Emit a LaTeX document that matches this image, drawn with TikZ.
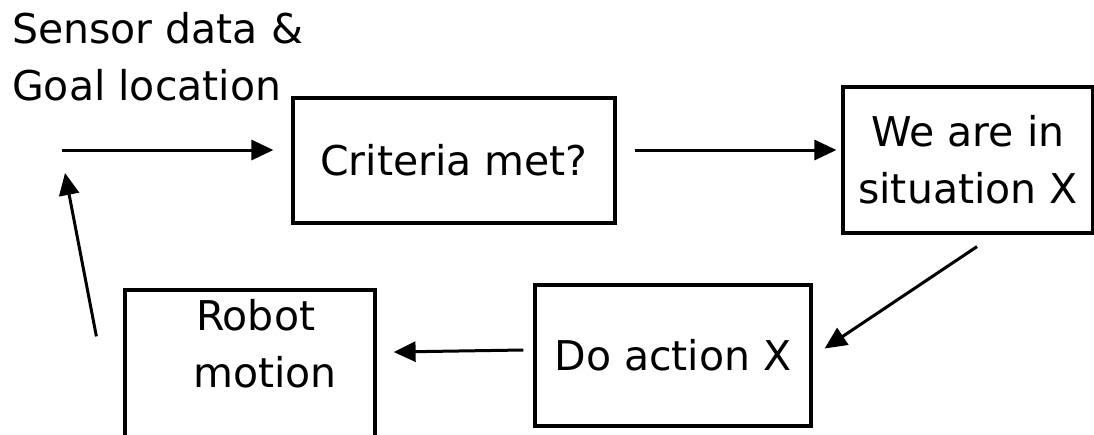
\documentclass[tikz,border=0pt]{standalone}
\usepackage{fontspec}
\setmainfont{DejaVu Sans}
\usetikzlibrary{arrows.meta,calc}

\tikzset{
  lbl/.style={inner sep=0pt, font=\fontsize{41}{57}\selectfont},
  stepbox/.style={draw=black, line width=3.2pt, inner sep=0pt, align=center,
                  font=\fontsize{41}{57}\selectfont},
  flow/.style={line width=3pt, -{Triangle[length=22pt,width=20pt]}},
}

\begin{document}
\begin{tikzpicture}[x=1pt,y=-1pt]
  \useasboundingbox (0,0) rectangle (1094,434);
  \clip (0,0) rectangle (1094,434);

  % input label (base anchor sits on the last line) and loop entry point
  \node[lbl, anchor=base west, align=left] (input) at (12,100) {Sensor data \&\\Goal location};
  \coordinate (in) at (62,150);

  % process boxes
  \node[stepbox, minimum width=322pt, minimum height=125pt] (crit) at (454,160.5) {Criteria met?};
  \node[stepbox, minimum width=250pt, minimum height=146pt] (sit) at (968,160) {We are in\\situation X};
  \node[stepbox, minimum width=276pt, minimum height=141pt] (act) at (673,355.5) {Do action X};
  \node[stepbox, minimum width=250pt, minimum height=190pt] (robot) at (250,385) {};
  \node[lbl, align=left, anchor=base west] (robottext) at (193,387) {\hspace{3pt}Robot\\motion};

  % connectors
  \draw[flow, shorten >=18pt] (in) -- (crit.west |- in);
  \draw[flow, shorten <=18pt, shorten >=5pt] (crit.east |- in) -- (sit.west |- in);
  \draw[flow] ($(sit.south)+(9,12)$) -- ($(act.east)+(12,-7)$);
  \draw[flow] ($(act.west)+(-10,-5.5)$) -- ($(robot.east |- act.west)+(17,-3.5)$);
  \draw[flow] ($(robot.north west)+(-27,48)$) -- ($(in)+(3,23)$);
\end{tikzpicture}
\end{document}
